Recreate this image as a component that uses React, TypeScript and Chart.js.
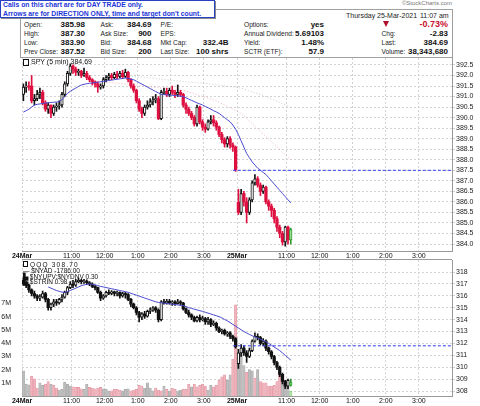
import React, { useEffect, useRef } from 'react';
import { Chart, registerables } from 'chart.js';

Chart.register(...registerables);

const FONT = '"Liberation Sans", Arial, sans-serif';
const CFONT = 'Liberation Sans';

// x axis: 5-minute slots over two sessions (78 per day)
const slotCount = 156;
const tickIdx = [0, 18, 30, 42, 54, 66, 78, 96, 108, 120, 132, 144];
const tickLabels = ['24Mar', '11:00', '12:00', '1:00', '2:00', '3:00', '25Mar', '11:00', '12:00', '1:00', '2:00', '3:00'];

const spyPriceTicks = [384.0, 384.5, 385.0, 385.5, 386.0, 386.5, 387.0, 387.5, 388.0, 388.5, 389.0, 389.5, 390.0, 390.5, 391.0, 391.5, 392.0, 392.5];
const qqqPriceTicks = [308, 309, 310, 311, 312, 313, 314, 315, 316, 317, 318];
const volTicks = [1, 2, 3, 4, 5, 6, 7];

const spyAxisMin = 383.67;
const spyAxisMax = 392.83;
const qqqAxisMin = 307.58;
const qqqAxisMax = 319.0;
const volAxisMax = 10.28;

// SPY 5-min OHLC
const spyOpen = [
  391.1, 391.45, 391.5, 391.5, 390.8, 390.9, 391.1, 391.2, 390.7, 390.4,
  390.6, 390.2, 390.5, 390.55, 390.6, 391.1, 391.6, 392.1, 392.45, 392.3,
  392.15, 392.2, 392.0, 392.1, 391.9, 391.8, 391.7, 391.6, 391.45, 391.5,
  391.8, 391.9, 392.0, 391.9, 392.05, 391.95, 392.1, 391.95, 392.15, 391.8,
  391.5, 391.3, 390.8, 390.4, 390.2, 390.5, 390.6, 390.75, 390.85, 390.9,
  389.95, 391.2, 391.25, 391.1, 391.3, 391.2, 391.1, 391.2, 391.1, 390.6,
  390.4, 390.2, 390.0, 389.7, 390.5, 389.8, 389.55, 389.45, 389.8, 389.9,
  389.75, 389.55, 389.2, 388.95, 388.75, 389.0, 388.7, 388.6,
  385.98, 385.5, 386.4, 386.0, 385.5, 386.1, 386.9, 387.1, 386.8, 386.5,
  386.7, 386.0, 385.8, 385.6, 385.2, 384.8, 384.5, 384.1, 384.8, 384.2,
];
const spyHigh = [
  391.6, 391.7, 391.7, 392.0, 391.1, 391.3, 391.4, 391.3, 390.8, 390.7,
  390.6, 390.6, 390.7, 390.8, 391.2, 391.7, 392.2, 392.55, 392.5, 392.4,
  392.3, 392.25, 392.35, 392.2, 392.0, 391.85, 391.75, 391.7, 391.6, 391.9,
  392.0, 392.1, 392.1, 392.15, 392.2, 392.2, 392.25, 392.3, 392.2, 391.85,
  391.6, 391.35, 390.9, 390.5, 390.6, 390.8, 390.9, 391.0, 391.1, 391.0,
  391.3, 391.4, 391.4, 391.4, 391.5, 391.3, 391.55, 391.3, 391.15, 390.7,
  390.5, 390.3, 390.1, 390.6, 390.55, 389.9, 389.7, 389.9, 390.1, 390.1,
  389.85, 389.6, 389.3, 389.05, 389.1, 389.1, 388.8, 388.65,
  386.6, 386.6, 386.5, 386.2, 386.2, 387.0, 387.3, 387.2, 386.9, 386.8,
  386.75, 386.1, 385.9, 385.7, 385.3, 384.9, 384.6, 384.85, 384.85, 384.75,
];
const spyLow = [
  390.8, 391.2, 391.3, 390.7, 390.6, 390.8, 390.9, 390.6, 390.3, 390.2,
  390.0, 390.1, 390.3, 390.4, 390.5, 391.0, 391.5, 392.0, 392.1, 392.0,
  392.0, 391.9, 391.95, 391.8, 391.7, 391.55, 391.45, 391.2, 391.35, 391.4,
  391.7, 391.8, 391.8, 391.85, 391.85, 391.9, 391.85, 391.9, 391.7, 391.4,
  391.2, 390.7, 390.3, 390.0, 390.1, 390.4, 390.5, 390.6, 390.7, 389.9,
  389.9, 391.1, 391.0, 391.0, 391.1, 390.95, 391.0, 391.0, 390.5, 390.2,
  390.1, 389.9, 389.6, 389.6, 389.7, 389.4, 389.3, 389.4, 389.7, 389.6,
  389.4, 389.1, 388.8, 388.6, 388.6, 388.55, 388.4, 387.45,
  385.4, 385.4, 385.8, 385.0, 385.4, 386.0, 386.8, 386.7, 386.3, 386.4,
  385.9, 385.6, 385.3, 385.0, 384.6, 384.3, 383.95, 383.9, 384.0, 384.0,
];
const spyClose = [
  391.45, 391.5, 391.45, 390.8, 390.9, 391.1, 391.2, 390.7, 390.4, 390.6,
  390.2, 390.5, 390.55, 390.6, 391.1, 391.6, 392.1, 392.45, 392.3, 392.15,
  392.2, 392.0, 392.1, 391.9, 391.8, 391.7, 391.6, 391.45, 391.5, 391.8,
  391.9, 392.0, 391.9, 392.05, 391.95, 392.1, 391.95, 392.15, 391.8, 391.5,
  391.3, 390.8, 390.4, 390.2, 390.5, 390.6, 390.75, 390.85, 390.9, 389.95,
  391.2, 391.25, 391.1, 391.3, 391.2, 391.1, 391.2, 391.1, 390.6, 390.4,
  390.2, 390.0, 389.7, 390.5, 389.8, 389.55, 389.45, 389.8, 389.9, 389.75,
  389.55, 389.2, 388.95, 388.75, 389.0, 388.7, 388.6, 387.52,
  385.5, 386.4, 386.0, 385.5, 386.1, 386.9, 387.1, 386.8, 386.5, 386.7,
  386.0, 385.8, 385.6, 385.2, 384.8, 384.5, 384.1, 384.8, 384.2, 384.69,
];
const spyMA = [
  390.26, 390.33, 390.4, 390.5, 390.6, 390.63, 390.65, 390.67, 390.69, 390.7,
  390.72, 390.73, 390.74, 390.76, 390.85, 391.0, 391.15, 391.25, 391.33, 391.4,
  391.48, 391.55, 391.58, 391.61, 391.63, 391.65, 391.67, 391.68, 391.7, 391.72,
  391.74, 391.76, 391.78, 391.8, 391.82, 391.84, 391.86, 391.88, 391.86, 391.83,
  391.8, 391.73, 391.66, 391.59, 391.52, 391.45, 391.38, 391.31, 391.24, 391.17,
  391.1, 391.09, 391.08, 391.07, 391.06, 391.05, 391.04, 391.02, 391.0, 390.94,
  390.88, 390.82, 390.76, 390.7, 390.65, 390.6, 390.53, 390.47, 390.4, 390.33,
  390.27, 390.2, 390.1, 390.0, 389.9, 389.8, 389.65, 389.45,
  389.2, 388.9, 388.6, 388.3, 388.1, 387.9, 387.75, 387.6, 387.5, 387.4,
  387.3, 387.15, 387.0, 386.85, 386.7, 386.55, 386.4, 386.25, 386.1, 385.95,
];
// faint longer averages (knots: slot index, value)
const spyPinkIdx = [28, 40, 50, 59, 70, 79, 88, 97];
const spyPinkVal = [391.72, 391.55, 391.4, 391.26, 390.8, 390.2, 389.1, 388.0];
const spyGreyIdx = [35, 45, 56, 68, 79, 88, 97];
const spyGreyVal = [392.0, 391.9, 391.74, 391.6, 391.4, 391.0, 390.5];
const spyLevel = 387.5;

// QQQ 5-min OHLC
const qqqOpen = [
  317.3, 317.0, 316.9, 316.5, 316.2, 316.0, 315.8, 315.9, 316.2, 315.7,
  315.0, 315.3, 315.5, 315.4, 315.7, 315.9, 316.3, 316.7, 317.0, 316.9,
  317.2, 317.3, 317.2, 317.25, 317.1, 317.0, 316.8, 316.7, 316.3, 315.8,
  316.0, 316.3, 316.2, 316.35, 316.2, 316.3, 316.0, 316.2, 316.1, 315.7,
  315.3, 315.0, 314.6, 314.2, 314.5, 314.3, 314.7, 314.8, 315.0, 314.8,
  314.0, 315.5, 315.4, 315.55, 315.4, 315.5, 315.35, 315.5, 315.4, 314.9,
  314.6, 314.4, 314.2, 313.9, 314.2, 314.0, 314.1, 313.8, 314.0, 313.6,
  313.7, 313.3, 313.0, 313.1, 312.8, 312.9, 312.6, 312.4,
  310.3, 311.2, 311.6, 311.2, 310.9, 311.4, 312.2, 312.6, 312.5, 312.0,
  312.2, 311.6, 311.3, 310.9, 310.4, 310.0, 309.4, 308.8, 308.4, 308.5,
];
const qqqHigh = [
  317.5, 317.2, 317.0, 316.6, 316.4, 316.1, 316.1, 316.4, 316.3, 315.8,
  315.4, 315.7, 315.7, 315.8, 316.1, 316.4, 316.8, 317.2, 317.3, 317.4,
  317.5, 317.4, 317.4, 317.35, 317.2, 317.1, 316.9, 316.75, 316.4, 316.1,
  316.4, 316.5, 316.45, 316.4, 316.4, 316.35, 316.3, 316.3, 316.2, 315.8,
  315.4, 315.1, 314.7, 314.6, 314.7, 314.8, 315.0, 315.1, 315.1, 314.9,
  315.6, 315.7, 315.7, 315.7, 315.6, 315.6, 315.7, 315.6, 315.45, 315.0,
  314.8, 314.5, 314.3, 314.3, 314.4, 314.3, 314.2, 314.2, 314.1, 313.9,
  313.8, 313.4, 313.2, 313.2, 313.0, 313.0, 312.7, 312.5,
  311.5, 311.9, 311.8, 311.4, 311.6, 312.3, 312.9, 312.8, 312.6, 312.4,
  312.3, 311.7, 311.4, 311.0, 310.5, 310.1, 309.5, 308.9, 309.0, 309.0,
];
const qqqLow = [
  316.9, 316.7, 316.3, 316.0, 315.8, 315.6, 315.6, 315.8, 315.5, 314.8,
  314.8, 315.1, 315.2, 315.3, 315.5, 315.8, 316.1, 316.6, 316.7, 316.8,
  317.1, 317.0, 317.05, 316.95, 316.85, 316.7, 316.5, 316.2, 315.6, 315.7,
  315.9, 316.1, 316.1, 316.0, 316.0, 315.8, 315.9, 315.8, 315.6, 315.1,
  314.9, 314.4, 313.8, 314.0, 314.1, 314.2, 314.5, 314.7, 314.6, 313.8,
  313.9, 315.3, 315.3, 315.3, 315.2, 315.2, 315.3, 315.2, 314.8, 314.5,
  314.2, 314.0, 313.8, 313.8, 313.8, 313.9, 313.6, 313.6, 313.4, 313.5,
  313.1, 312.9, 312.8, 312.7, 312.6, 312.4, 312.2, 311.6,
  309.9, 310.9, 311.0, 310.4, 310.8, 311.3, 312.1, 312.3, 311.9, 311.8,
  311.4, 311.1, 310.7, 310.2, 309.8, 309.2, 308.6, 308.2, 308.2, 308.4,
];
const qqqClose = [
  317.0, 316.9, 316.5, 316.2, 316.0, 315.8, 315.9, 316.2, 315.7, 315.0,
  315.3, 315.5, 315.4, 315.7, 315.9, 316.3, 316.7, 317.0, 316.9, 317.2,
  317.3, 317.2, 317.25, 317.1, 317.0, 316.8, 316.7, 316.3, 315.8, 316.0,
  316.3, 316.2, 316.35, 316.2, 316.3, 316.0, 316.2, 316.1, 315.7, 315.3,
  315.0, 314.6, 314.2, 314.5, 314.3, 314.7, 314.8, 315.0, 314.8, 314.0,
  315.5, 315.4, 315.55, 315.4, 315.5, 315.35, 315.5, 315.4, 314.9, 314.6,
  314.4, 314.2, 313.9, 314.2, 314.0, 314.1, 313.8, 314.0, 313.6, 313.7,
  313.3, 313.0, 313.1, 312.8, 312.9, 312.6, 312.4, 311.7,
  311.2, 311.6, 311.2, 310.9, 311.4, 312.2, 312.6, 312.5, 312.0, 312.2,
  311.6, 311.3, 310.9, 310.4, 310.0, 309.4, 308.8, 308.4, 308.9, 308.7,
];
const qqqMAStart = 9;
const qqqMA = [
  316.75, 316.65, 316.55, 316.45, 316.38, 316.32, 316.3, 316.35, 316.45, 316.55,
  316.65, 316.75, 316.85, 316.92, 316.97, 317.0, 316.97, 316.92, 316.87, 316.8,
  316.75, 316.7, 316.65, 316.6, 316.55, 316.5, 316.45, 316.4, 316.35, 316.3,
  316.22, 316.14, 316.06, 315.98, 315.9, 315.82, 315.74, 315.66, 315.58, 315.5,
  315.45, 315.42, 315.39, 315.36, 315.33, 315.3, 315.27, 315.24, 315.21, 315.18,
  315.1, 315.0, 314.95, 314.88, 314.82, 314.75, 314.7, 314.62, 314.55, 314.48,
  314.4, 314.33, 314.25, 314.15, 314.02, 313.9, 313.75, 313.6, 313.45, 313.3,
  313.15, 313.0, 312.88, 312.76, 312.65, 312.55, 312.45, 312.35, 312.25, 312.15,
  312.0, 311.85, 311.7, 311.55, 311.4, 311.2, 311.0, 310.8, 310.6,
];
const qqqLevel = 311.8;
const levelStartSlot = 76.5;

// QQQ volume (millions) and bar direction: u = up, d = down, c = current
const qqqVolume = [
  1.9, 0.9, 0.85, 1.5, 1.3, 0.6, 1.0, 0.8, 0.9, 1.1,
  0.9, 0.8, 0.6, 0.45, 0.5, 1.05, 0.9, 0.75, 0.7, 0.65,
  0.65, 0.55, 0.5, 0.9, 0.65, 0.6, 0.55, 0.6, 0.65, 0.55,
  0.5, 0.4, 0.4, 0.5, 0.5, 0.45, 0.4, 0.5, 0.55, 0.4,
  0.45, 0.5, 0.8, 0.75, 0.6, 1.0, 0.6, 0.4, 0.6, 0.45,
  0.4, 0.75, 0.5, 0.4, 0.6, 0.5, 0.4, 0.45, 0.5, 0.5,
  0.9, 0.7, 0.9, 0.7, 0.8, 0.9, 0.75, 0.45, 0.8, 0.7,
  0.8, 1.2, 1.45, 1.6, 1.2, 1.6, 2.8, 6.9,
  3.0, 3.2, 2.3, 1.8, 2.0, 1.9, 1.35, 2.0, 1.1, 1.0,
  1.0, 0.75, 0.75, 0.8, 1.1, 1.7, 1.35, 1.2, 0.75, 0.35,
];
const qqqVolDir = [
  'u', 'u', 'u', 'd', 'd', 'd', 'u', 'u', 'd', 'd',
  'u', 'd', 'd', 'u', 'u', 'u', 'u', 'u', 'd', 'd',
  'd', 'd', 'u', 'u', 'd', 'd', 'd', 'd', 'd', 'u',
  'u', 'u', 'd', 'd', 'd', 'd', 'u', 'u', 'u', 'd',
  'd', 'd', 'd', 'd', 'u', 'u', 'u', 'u', 'd', 'd',
  'd', 'u', 'd', 'u', 'd', 'd', 'u', 'u', 'd', 'd',
  'd', 'u', 'd', 'd', 'd', 'd', 'd', 'u', 'u', 'd',
  'd', 'd', 'd', 'd', 'u', 'u', 'd', 'd',
  'u', 'u', 'u', 'd', 'u', 'u', 'd', 'u', 'd', 'd',
  'd', 'd', 'd', 'd', 'd', 'd', 'u', 'u', 'u', 'c',
];

type CandleColors = { up: string; upFill: string; down: string; downFill: string; last: string; lastFill: string };

function candleDatasets(o: number[], h: number[], l: number[], c: number[], col: CandleColors, yAxisID: string) {
  const n = c.length;
  const kind = c.map((v, i) => (i === n - 1 ? 'last' : v < o[i] ? 'down' : 'up'));
  const stroke = kind.map((k) => (k === 'last' ? col.last : k === 'down' ? col.down : col.up));
  const fill = kind.map((k) => (k === 'last' ? col.lastFill : k === 'down' ? col.downFill : col.upFill));
  return [
    {
      type: 'bar',
      yAxisID,
      data: c.map((_, i) => ({ x: i + 0.5, y: [l[i], h[i]] })),
      backgroundColor: stroke,
      borderWidth: 0,
      barThickness: 1,
      grouped: false,
      order: 2,
    },
    {
      type: 'bar',
      yAxisID,
      data: c.map((v, i) => ({ x: i + 0.5, y: [Math.min(o[i], v), Math.max(o[i], v)] })),
      backgroundColor: fill,
      borderColor: stroke,
      borderWidth: kind.map((k) => (k === 'down' ? 0 : 1)),
      borderSkipped: false,
      barThickness: 2.6,
      minBarLength: 1,
      grouped: false,
      order: 1,
    },
  ];
}

function xAxis(height: number) {
  return {
    type: 'linear',
    position: 'bottom',
    min: 0,
    max: slotCount,
    offset: false,
    afterBuildTicks: (s: any) => {
      s.ticks = tickIdx.map((v) => ({ value: v }));
    },
    afterFit: (s: any) => {
      s.height = height;
    },
    ticks: {
      autoSkip: false,
      maxRotation: 0,
      minRotation: 0,
      padding: 1,
      color: '#111',
      font: (ctx: any) => ({ family: CFONT, size: 7, weight: (tickLabels[ctx.index] || '').includes('Mar') ? 'bold' : 'normal' }),
      callback: (_v: any, i: number) => tickLabels[i],
    },
    grid: { color: '#d2d2d2', drawTicks: false, offset: false },
    border: { display: true, color: '#9a9a9a', dash: [2, 2] },
  };
}

function priceAxis(min: number, max: number, ticks: number[], digits: number) {
  return {
    type: 'linear',
    position: 'right',
    min,
    max,
    afterBuildTicks: (s: any) => {
      s.ticks = ticks.map((v) => ({ value: v }));
    },
    afterFit: (s: any) => {
      s.width = 28;
    },
    ticks: { autoSkip: false, padding: 1, color: '#222', font: { family: CFONT, size: 7 }, callback: (v: any) => Number(v).toFixed(digits) },
    grid: { color: '#d2d2d2', tickLength: 3, drawTicks: true },
    border: { display: true, color: '#9a9a9a', dash: [2, 2] },
  };
}

const lineBase = { type: 'line', pointRadius: 0, borderWidth: 1, tension: 0, fill: false };

export default function App() {
  const topRef = useRef<HTMLCanvasElement | null>(null);
  const botRef = useRef<HTMLCanvasElement | null>(null);

  useEffect(() => {
    const spyColors: CandleColors = { up: '#111', upFill: '#fff', down: '#dd1040', downFill: '#dd1040', last: '#2a9a2a', lastFill: '#a8e8a0' };
    const qqqColors: CandleColors = { up: '#111', upFill: '#fff', down: '#111', downFill: '#111', last: '#2a9a2a', lastFill: '#a8e8a0' };

    const top = new Chart(topRef.current as HTMLCanvasElement, {
      type: 'bar',
      data: {
        datasets: [
          ...candleDatasets(spyOpen, spyHigh, spyLow, spyClose, spyColors, 'y'),
          { ...lineBase, yAxisID: 'y', order: 0, borderColor: '#4a4ad0', data: spyMA.map((v, i) => ({ x: i + 0.5, y: v })) },
          { ...lineBase, yAxisID: 'y', order: 3, borderColor: 'rgba(235,150,165,0.7)', borderDash: [1, 2], data: spyPinkIdx.map((k, i) => ({ x: k + 0.5, y: spyPinkVal[i] })) },
          { ...lineBase, yAxisID: 'y', order: 3, borderColor: 'rgba(170,195,170,0.7)', borderDash: [1, 2], data: spyGreyIdx.map((k, i) => ({ x: k + 0.5, y: spyGreyVal[i] })) },
          { ...lineBase, yAxisID: 'y', order: 0, borderColor: '#2f3cf0', borderDash: [3, 2], data: [{ x: levelStartSlot, y: spyLevel }, { x: slotCount, y: spyLevel }] },
        ] as any,
      },
      options: {
        responsive: false,
        animation: false,
        events: [],
        layout: { padding: { left: 22, top: 6, right: 0, bottom: 0 } },
        plugins: { legend: { display: false }, tooltip: { enabled: false } },
        scales: {
          x: xAxis(12),
          y: priceAxis(spyAxisMin, spyAxisMax, spyPriceTicks, 1),
        } as any,
      },
    });

    const bot = new Chart(botRef.current as HTMLCanvasElement, {
      type: 'bar',
      data: {
        datasets: [
          {
            type: 'bar',
            yAxisID: 'yVol',
            order: 4,
            data: qqqVolume.map((v, i) => ({ x: i + 0.5, y: v })),
            backgroundColor: qqqVolDir.map((d) => (d === 'd' ? '#f0b4bd' : d === 'u' ? '#bdbdbd' : '#b6e6ae')),
            borderColor: qqqVolDir.map((d) => (d === 'd' ? '#e396a3' : d === 'u' ? '#a6a6a6' : '#7cc070')),
            borderWidth: 0.6,
            borderSkipped: 'bottom',
            barThickness: 2.4,
            grouped: false,
          },
          ...candleDatasets(qqqOpen, qqqHigh, qqqLow, qqqClose, qqqColors, 'yP'),
          { ...lineBase, yAxisID: 'yP', order: 0, borderColor: '#4a4ad0', data: qqqMA.map((v, i) => ({ x: i + qqqMAStart + 0.5, y: v })) },
          { ...lineBase, yAxisID: 'yP', order: 0, borderColor: '#2f3cf0', borderDash: [3, 2], data: [{ x: levelStartSlot, y: qqqLevel }, { x: slotCount, y: qqqLevel }] },
        ] as any,
      },
      options: {
        responsive: false,
        animation: false,
        events: [],
        layout: { padding: { left: 0, top: 6, right: 0, bottom: 0 } },
        plugins: { legend: { display: false }, tooltip: { enabled: false } },
        scales: {
          x: xAxis(10),
          yP: priceAxis(qqqAxisMin, qqqAxisMax, qqqPriceTicks, 0),
          yVol: {
            type: 'linear',
            position: 'left',
            min: 0,
            max: volAxisMax,
            afterBuildTicks: (s: any) => {
              s.ticks = volTicks.map((v) => ({ value: v }));
            },
            afterFit: (s: any) => {
              s.width = 22;
            },
            ticks: { autoSkip: false, padding: 3, color: '#222', font: { family: CFONT, size: 7 }, callback: (v: any) => `${v}M` },
            grid: { display: false },
            border: { display: false },
          },
        } as any,
      },
    });

    return () => {
      top.destroy();
      bot.destroy();
    };
  }, []);

  const abs = (extra: React.CSSProperties): React.CSSProperties => ({ position: 'absolute', whiteSpace: 'nowrap', ...extra });
  const lab = (x: number, y: number, text: string) => (
    <div style={abs({ left: x, top: y, fontSize: 6.6, lineHeight: '9px', color: '#222' })}>{text}</div>
  );
  const val = (xr: number, y: number, text: string, extra: React.CSSProperties = {}) => (
    <div style={abs({ right: 480 - xr, top: y, fontSize: 8, lineHeight: '9px', fontWeight: 'bold', color: '#111', ...extra })}>{text}</div>
  );
  const rows = [20, 29, 38, 47];

  return (
    <div style={{ position: 'fixed', left: 0, top: 0, width: 480, height: 406, background: '#fff', overflow: 'hidden', fontFamily: FONT }}>
      {/* header table */}
      <div style={abs({ left: 20, top: 9, width: 431, height: 47, border: '1px solid #a0a0a0' })} />
      <div style={abs({ right: 28, top: 0, fontSize: 6, color: '#777' })}>©StockCharts.com</div>
      <div style={abs({ left: 346, top: 11, fontSize: 7, lineHeight: '9px', color: '#222' })}>Thursday</div>
      <div style={abs({ left: 377, top: 11, fontSize: 7, lineHeight: '9px', color: '#222' })}>25-Mar-2021</div>
      <div style={abs({ left: 420, top: 11, fontSize: 7, lineHeight: '9px', color: '#222' })}>11:07 am</div>

      {lab(24, rows[0], 'Open:')}
      {lab(24, rows[1], 'High:')}
      {lab(24, rows[2], 'Low:')}
      {lab(24, rows[3], 'Prev Close:')}
      {val(85, rows[0], '385.98')}
      {val(85, rows[1], '387.30')}
      {val(85, rows[2], '383.90')}
      {val(85, rows[3], '387.52')}

      {lab(100.5, rows[0], 'Ask:')}
      {lab(100.5, rows[1], 'Ask Size:')}
      {lab(100.5, rows[2], 'Bid:')}
      {lab(100.5, rows[3], 'Bid Size:')}
      {val(151.5, rows[0], '384.69')}
      {val(151.5, rows[1], '900')}
      {val(151.5, rows[2], '384.68')}
      {val(151.5, rows[3], '200')}

      {lab(160.5, rows[0], 'P/E:')}
      {lab(160.5, rows[1], 'EPS:')}
      {lab(160.5, rows[2], 'Mkt Cap:')}
      {lab(160.5, rows[3], 'Last Size:')}
      {val(228.5, rows[2], '332.4B')}
      {val(228.5, rows[3], '100 shrs')}

      {lab(244, rows[0], 'Options:')}
      {lab(244, rows[1], 'Annual Dividend:')}
      {lab(244, rows[2], 'Yield:')}
      {lab(244, rows[3], 'SCTR (ETF):')}
      {val(324, rows[0], 'yes')}
      {val(324, rows[1], '5.69103')}
      {val(324, rows[2], '1.48%')}
      {val(324, rows[3], '57.9')}

      <div style={abs({ left: 383, top: 21, width: 0, height: 0, borderLeft: '3px solid transparent', borderRight: '3px solid transparent', borderTop: '6px solid #b0102a' })} />
      {val(448, rows[0] - 1, '-0.73%', { fontSize: 9, lineHeight: '10px', color: '#c8102e' })}
      {lab(381.5, rows[1], 'Chg:')}
      {lab(381.5, rows[2], 'Last:')}
      {lab(381.5, rows[3], 'Volume:')}
      {val(448, rows[1], '-2.83')}
      {val(448, rows[2], '384.69')}
      {val(448, rows[3], '38,343,680')}

      {/* callout box */}
      <div
        style={abs({
          left: 0,
          top: 0,
          width: 211,
          height: 16,
          padding: '0 0 0 2px',
          background: '#fff',
          border: '1px solid #2840c8',
          boxShadow: '1px 1px 0 #8a8a8a',
          color: '#1c36d8',
          fontWeight: 'bold',
          fontSize: 6.8,
          lineHeight: '8.5px',
        })}
      >
        <div>Calls on this chart are for DAY TRADE only.</div>
        <div>Arrows are for DIRECTION ONLY, time and target don't count.</div>
      </div>

      {/* charts */}
      <canvas ref={topRef} width={480} height={211} style={{ position: 'absolute', left: 0, top: 52, width: 480, height: 211 }} />
      <canvas ref={botRef} width={480} height={153} style={{ position: 'absolute', left: 0, top: 253, width: 480, height: 153 }} />
      <div style={abs({ left: 22, top: 259, width: 430, height: 1, background: '#9a9a9a' })} />

      {/* panel legends */}
      <div style={abs({ left: 23, top: 57, fontSize: 7, lineHeight: '9px', color: '#111' })}>
        <span style={{ display: 'inline-block', width: 4, height: 5, border: '1px solid #111', marginRight: 2, verticalAlign: 'middle' }} />
        SPY (5 min) 384.69
      </div>
      <div style={abs({ left: 23, top: 261, fontSize: 6.5, lineHeight: '5.8px', color: '#111' })}>
        <div style={{ letterSpacing: 1.2 }}>
          <span style={{ display: 'inline-block', width: 3, height: 4, border: '1px solid #111', marginRight: 2 }} />
          QQQ 308.70
        </div>
        <div>— $NYAD -1786.00</div>
        <div>▙ $NYUPV:$NYDNV 0.30</div>
        <div>▙ $STRIN 0.98</div>
      </div>
    </div>
  );
}
